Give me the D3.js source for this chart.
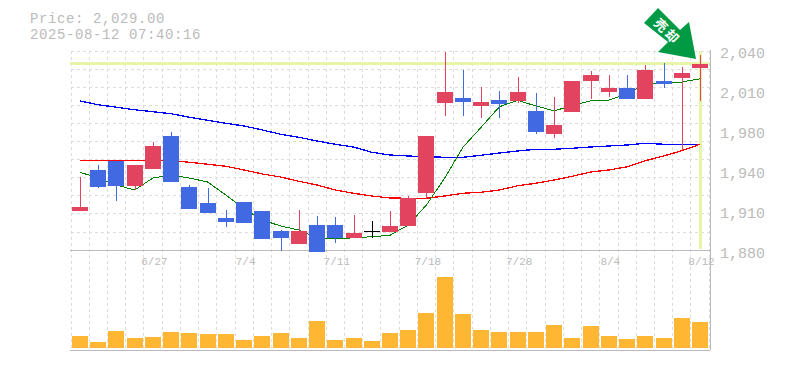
<!DOCTYPE html>
<html>
<head>
<meta charset="utf-8">
<script src="https://cdn.jsdelivr.net/npm/d3@7"></script>
<style>
body { margin: 0; background: #fff; }
text { font-family: "Liberation Mono", monospace; fill: #bbb; }
</style>
</head>
<body>
<svg id="chart" width="785" height="370"></svg>
<script>
const dates = ["6/23","6/24","6/25","6/26","6/27","6/30","7/1","7/2","7/3","7/4","7/7","7/8","7/9","7/10","7/11","7/14","7/15","7/16","7/17","7/18","7/22","7/23","7/24","7/25","7/28","7/29","7/30","7/31","8/1","8/4","8/5","8/6","8/7","8/8","8/12"];
const open  = [1911.2,1944,1951.2,1931.2,1944.8,1971.2,1930.4,1917.6,1905.6,1918.4,1911.2,1895.2,1884.8,1900,1900,1889.6,1895.2,1894.4,1899.2,1925.6,1997.6,2001.6,1995.2,2000,1999.2,1991.2,1972.8,1990.4,2015.2,2006.4,2009.6,2000.8,2015.2,2017.6,2025.6];
const high  = [1938.4,1948,1951.2,1948,1966.4,1974.4,1932,1929.6,1912,1918.4,1911.2,1896,1912,1907.2,1906.4,1908,1903.2,1911.2,1923.2,1971.2,2038.4,2024,2010.4,2007.2,2018.4,2005.6,2002.4,2015.2,2023.2,2020,2020,2028,2029.6,2026.4,2036];
const low   = [1911.2,1929.6,1919.2,1928,1944.8,1934.4,1912.8,1909.6,1898.4,1901.6,1888.8,1879.2,1884.8,1878.4,1885.6,1889.6,1889.6,1894.4,1899.2,1920.8,1987.2,1987.2,1985.6,1985.6,1997.6,1972.8,1969.6,1990.4,2000.8,2002.4,2000.8,2000.8,2009.6,1960,1999.2];
const close = [1914.4,1930.4,1931.2,1948,1963.2,1934.4,1912.8,1909.6,1902.4,1901.6,1888.8,1889.6,1895.2,1878.4,1889.6,1893.6,1895.2,1899.2,1921.6,1971.2,2006.4,1998.4,1998.4,1996.8,2006.4,1974.4,1980,2015.2,2020,2009.6,2000.8,2024,2012.8,2021.6,2029];
const maShort = [1942.2,1937.6,1932,1928,1937.6,1940,1937.6,1934.4,1924,1912.8,1904,1899.2,1896,1889.6,1888.8,1889.8,1890.6,1891.8,1900,1916,1937.6,1962.2,1978.2,1994.6,1999.8,1995.2,1991.4,1995.4,1999.4,2000,2004.8,2012.8,2013.4,2014.4,2017];
const maMid = [1951.8,1951.8,1951.8,1951.8,1951.8,1951.6,1950.2,1948.6,1947,1944,1940.8,1938.4,1935,1932,1928,1925.4,1923.2,1921.6,1921.4,1921.4,1923.2,1925.4,1926.2,1928,1931.4,1933.4,1936,1939,1942.4,1944,1946.6,1951.4,1955.2,1959.4,1964.6];
const maLong = [1999.2,1996.2,1994.2,1992.2,1990.6,1989,1986.2,1983.8,1981.4,1979.2,1976,1972.6,1970.2,1967.2,1964.6,1962.4,1958.2,1956,1955.2,1954.6,1954.2,1954.2,1955.8,1957.6,1959.2,1960.6,1960.6,1961.4,1962.4,1963.2,1964,1965.4,1964.6,1964.6,1964.6];
const volume = [1200,600,1700,1000,1100,1600,1500,1400,1400,800,1200,1500,1000,2700,800,1000,700,1500,1800,3500,7100,3400,1800,1600,1600,1600,2300,1000,2200,1200,900,1200,1000,3000,2600];
const priceTicks = [2040,2008,1976,1944,1912,1880];
const priceLabels = ["2,040","2,010","1,980","1,940","1,910","1,880"];
const dateTicks = ["6/27","7/4","7/11","7/18","7/28","8/4","8/12"];
const lastPrice = 2029;

const up = "#e2445f", down = "#4169e1", gridColor = "#dcdcdc", axisColor = "#bbb", mark = "#e6f5a8";

const svg = d3.select("#chart");
const x = d3.scalePoint().domain(dates).range([80, 700]);
const y = d3.scaleLinear().domain([1880, 2040]).range([250, 50]);
const yVol = d3.scaleLinear().domain([0, 7100]).range([348, 277]);
const px = d => Math.round(x(d));

// grid
const grid = svg.append("g").attr("stroke", gridColor).attr("stroke-dasharray", "3,3").attr("shape-rendering", "crispEdges");
d3.range(12).forEach(i => {
    let gy = 51 + i * 18.1;
    grid.append("line").attr("x1", 71).attr("x2", 709).attr("y1", gy).attr("y2", gy);
});
dates.concat("end").forEach((d, i) => {
    let gx = 71 + i * 18.235;
    grid.append("line").attr("x1", gx).attr("x2", gx).attr("y1", 51).attr("y2", 350);
});

// current price cross
svg.append("line").attr("x1", 70).attr("x2", 709).attr("y1", y(lastPrice)).attr("y2", y(lastPrice))
    .attr("stroke", mark).attr("stroke-width", 3).attr("shape-rendering", "crispEdges");
svg.append("line").attr("x1", px("8/12") + 0.5).attr("x2", px("8/12") + 0.5).attr("y1", 51).attr("y2", 249)
    .attr("stroke", mark).attr("stroke-width", 3).attr("shape-rendering", "crispEdges");

// frame
const frame = svg.append("g").attr("stroke", axisColor).attr("shape-rendering", "crispEdges");
frame.append("line").attr("x1", 70).attr("x2", 710).attr("y1", 250).attr("y2", 250);
frame.append("line").attr("x1", 70).attr("x2", 710).attr("y1", 350).attr("y2", 350);
frame.append("line").attr("x1", 710).attr("x2", 710).attr("y1", 50).attr("y2", 350);

// moving averages
const line = d3.line().x((d, i) => x(dates[i])).y(d => y(d));
[[maLong, "#0000ff", 1.3], [maMid, "#ff0000", 1.3], [maShort, "#008000", 1]].forEach(([s, c, w]) => {
    svg.append("path").attr("d", line(s)).attr("fill", "none").attr("stroke", c)
        .attr("stroke-width", w).attr("shape-rendering", "crispEdges");
});

// candles
const color = i => close[i] > open[i] ? up : close[i] < open[i] ? down : "#000";
const candles = svg.append("g").attr("shape-rendering", "crispEdges");
dates.forEach((d, i) => {
    let cx = px(d) + 0.5;
    candles.append("line").attr("x1", cx).attr("x2", cx).attr("y1", y(high[i])).attr("y2", y(low[i]))
        .attr("stroke", color(i));
    if (open[i] === close[i]) {
        candles.append("line").attr("x1", px(d) - 8).attr("x2", px(d) + 8)
            .attr("y1", y(open[i])).attr("y2", y(open[i])).attr("stroke", color(i));
    } else {
        candles.append("rect").attr("x", px(d) - 8).attr("width", 16)
            .attr("y", y(Math.max(open[i], close[i])))
            .attr("height", Math.abs(y(open[i]) - y(close[i])))
            .attr("fill", color(i));
    }
});

// volume
svg.append("g").selectAll("rect").data(volume).join("rect")
    .attr("x", (d, i) => px(dates[i]) - 8)
    .attr("width", 16)
    .attr("y", d => yVol(d))
    .attr("height", d => yVol(0) - yVol(d))
    .attr("fill", "#ffb733")
    .attr("shape-rendering", "crispEdges");

// axes
const yAxis = d3.axisRight(y).tickValues(priceTicks).tickFormat((d, i) => priceLabels[i]).tickSize(0).tickPadding(10);
const gy = svg.append("g").attr("transform", "translate(710,0)").call(yAxis);
gy.select(".domain").remove();
gy.selectAll("text").attr("font-size", 15).attr("font-family", "Liberation Mono").attr("dy", "0.65em").attr("y", -2).attr("fill", axisColor);

const xAxis = d3.axisBottom(x).tickValues(dateTicks).tickSize(0).tickPadding(0);
const gx = svg.append("g").attr("transform", "translate(0,257)").call(xAxis);
gx.select(".domain").remove();
gx.selectAll("text").attr("font-size", 11).attr("font-family", "Liberation Sans").attr("dx", 1).attr("fill", "#ccc");

// price header
svg.append("text").attr("x", 30).attr("y", 22.5).attr("font-size", 14).attr("letter-spacing", 0.6).text("Price: 2,029.00");
svg.append("text").attr("x", 30).attr("y", 38.5).attr("font-size", 14).attr("letter-spacing", 0.6).text("2025-08-12 07:40:16");

// badge
svg.append("polygon")
    .attr("points", "644,23 658,8 680,30 689,22 696,59 658,52 668,42")
    .attr("fill", "#009a44");
[["売", 661, 25], ["却", 672, 36]].forEach(([t, tx, ty]) => {
    svg.append("text").attr("transform", `translate(${tx},${ty}) rotate(45)`)
        .attr("text-anchor", "middle").attr("dy", "0.38em")
        .style("font-family", "'Noto Sans CJK JP'").style("font-weight", "bold").style("font-size", "13px").style("fill", "#fff")
        .text(t);
});
</script>
</body>
</html>
